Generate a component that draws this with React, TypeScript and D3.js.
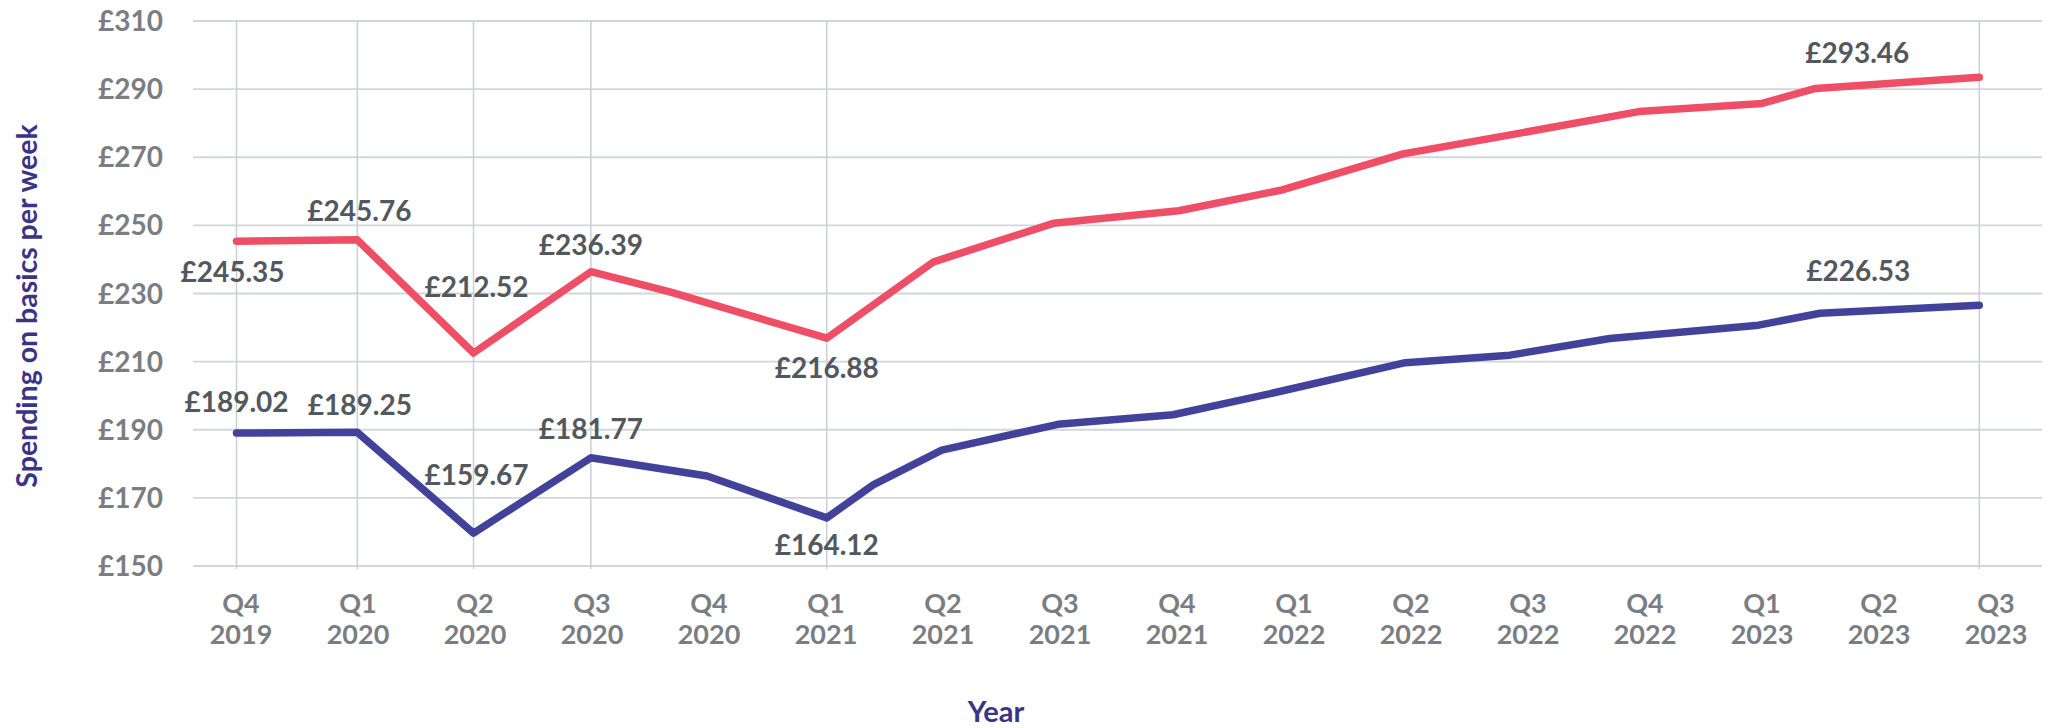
import React from "react";
import * as d3 from "d3";

// ---- Data ----
const categories = [
  "Q4 2019", "Q1 2020", "Q2 2020", "Q3 2020", "Q4 2020", "Q1 2021", "Q2 2021", "Q3 2021",
  "Q4 2021", "Q1 2022", "Q2 2022", "Q3 2022", "Q4 2022", "Q1 2023", "Q2 2023", "Q3 2023",
];
const yTicks = [150, 170, 190, 210, 230, 250, 270, 290, 310];

// time position (quarter index, fractional) and weekly spend
const redT = [0, 1.04, 2.04, 3.05, 3.73, 5.08, 6.0, 7.03, 8.11, 9.0, 10.04, 11.0, 12.07, 13.13, 13.59, 15];
const redV = [245.35, 245.76, 212.52, 236.39, 230.5, 216.88, 239.3, 250.6, 254.3, 260.4, 271.0, 276.8, 283.4, 285.8, 290.2, 293.46];
const blueT = [0, 1.04, 2.04, 3.05, 4.05, 5.08, 5.48, 6.07, 7.07, 8.06, 8.95, 10.06, 10.96, 11.82, 13.1, 13.63, 15];
const blueV = [189.02, 189.25, 159.67, 181.77, 176.4, 164.12, 173.8, 184.0, 191.6, 194.4, 201.0, 209.7, 211.9, 216.8, 220.7, 224.2, 226.53];

// labelled points: index of point in each series
const redLabelIdx = [0, 1, 2, 3, 5, 15];
const blueLabelIdx = [0, 1, 2, 3, 5, 16];

// ---- Layout ----
const W = 2054, H = 728;
const plotLeft = 193, plotRight = 2042, plotTop = 21, plotBottom = 566;
const FONT = "Lato, 'Open Sans', sans-serif";
const RED = "#ee4f66";
const BLUE = "#42429a";
const LABEL = "#52585e";
const TICK = "#7a7e82";
const TITLE = "#3b3486";
const GRID = "#d3d6d9";

// label offsets (dx, dy of baseline) relative to the point
const redLabelOffsets = [[-4, 40.5], [2, -19], [3, -56.5], [0, -17], [0, 40], [-122, -14]];
const blueLabelOffsets = [[0, -21.3], [2.5, -17.3], [3, -48], [0, -18.7], [0, 37], [-121, -24.6]];

export default function App() {
  const x = d3.scaleLinear().domain([0, 15]).range([236.5, 1979.3]);
  const y = d3.scaleLinear().domain([150, 310]).range([plotBottom, plotTop]);
  const xLab = d3.scalePoint<string>().domain(categories).range([241, 1996]);

  const line = d3.line<[number, number]>().x((d) => x(d[0])).y((d) => y(d[1]));
  const redPts: [number, number][] = redT.map((t, i) => [t, redV[i]]);
  const bluePts: [number, number][] = blueT.map((t, i) => [t, blueV[i]]);

  const verticals = redLabelIdx.map((i) => redT[i]);

  const fmt = (v: number) => "£" + v.toFixed(2);

  return (
    <svg width={W} height={H} style={{ position: "absolute", left: 0, top: 0, background: "#fff" }}
      fontFamily={FONT}>
      {/* horizontal grid */}
      {yTicks.map((t) => (
        <line key={"h" + t} x1={plotLeft} x2={plotRight} y1={y(t)} y2={y(t)} stroke={GRID} strokeWidth={1.8} />
      ))}
      {/* vertical drop lines */}
      {verticals.map((t, i) => (
        <line key={"v" + i} x1={x(t)} x2={x(t)} y1={plotTop} y2={plotBottom + 3} stroke="#cbcfd3" strokeWidth={1.5} />
      ))}
      {/* y tick labels */}
      {yTicks.map((t) => (
        <text key={"yt" + t} x={163} y={y(t)} dy="0.36em" textAnchor="end" fontSize={28} fontWeight={700} fill={TICK}>
          {"£" + t}
        </text>
      ))}
      {/* x tick labels */}
      {categories.map((c) => {
        const [q, yr] = c.split(" ");
        return (
          <g key={"xt" + c}>
            <text x={xLab(c)} y={613} textAnchor="middle" fontSize={27} fontWeight={700} fill={TICK}>{q}</text>
            <text x={xLab(c)} y={644} textAnchor="middle" fontSize={27} fontWeight={700} fill={TICK}>{yr}</text>
          </g>
        );
      })}
      {/* lines */}
      <path d={line(redPts) || ""} fill="none" stroke={RED} strokeWidth={7.5} strokeLinecap="round" strokeLinejoin="round" />
      <path d={line(bluePts) || ""} fill="none" stroke={BLUE} strokeWidth={7.5} strokeLinecap="round" strokeLinejoin="round" />
      {/* data labels */}
      {redLabelIdx.map((idx, k) => (
        <text key={"rl" + k} x={x(redT[idx]) + redLabelOffsets[k][0]} y={y(redV[idx]) + redLabelOffsets[k][1]}
          textAnchor="middle" fontSize={28} fontWeight={700} fill={LABEL}>
          {fmt(redV[idx])}
        </text>
      ))}
      {blueLabelIdx.map((idx, k) => (
        <text key={"bl" + k} x={x(blueT[idx]) + blueLabelOffsets[k][0]} y={y(blueV[idx]) + blueLabelOffsets[k][1]}
          textAnchor="middle" fontSize={28} fontWeight={700} fill={LABEL}>
          {fmt(blueV[idx])}
        </text>
      ))}
      {/* axis titles */}
      <text transform={`translate(27, 306) rotate(-90)`} textAnchor="middle" dy="0.35em"
        fontSize={28.5} fontWeight={700} fill={TITLE}>
        Spending on basics per week
      </text>
      <text x={996} y={722} textAnchor="middle" fontSize={29} fontWeight={700} fill={TITLE}>
        Year
      </text>
    </svg>
  );
}
